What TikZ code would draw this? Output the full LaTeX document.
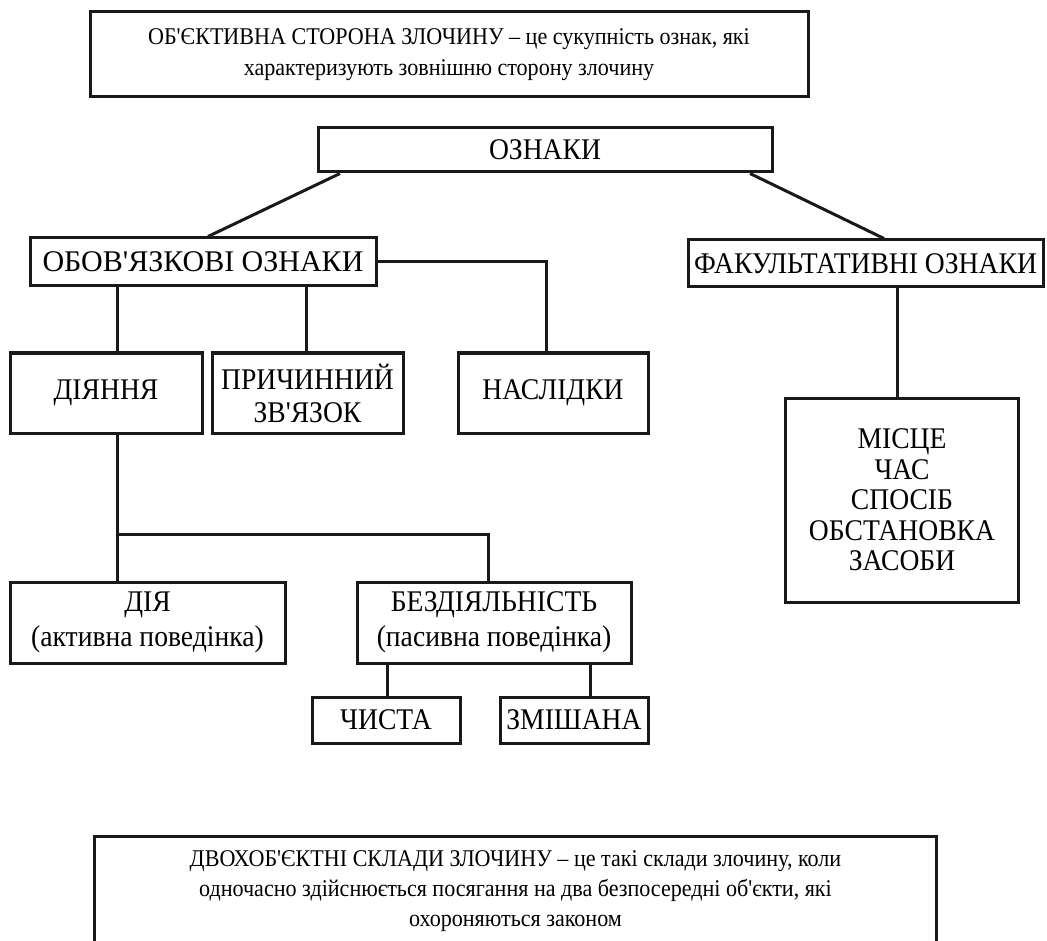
\documentclass[tikz,border=0pt]{standalone}
\usepackage{fontspec}
\setmainfont{Liberation Serif}[FakeStretch=0.92, Ligatures=TeXOff]
\begin{document}
\begin{tikzpicture}[x=1pt,y=-1pt,
  box/.style={draw=black!90, line width=3pt, fill=white, inner sep=0pt, align=center,
    font=\fontsize{30}{33}\selectfont},
  txt/.style={font=\fontsize{24}{31}\selectfont},
  conn/.style={draw=black!90, line width=3pt}]
\useasboundingbox (0,0) rectangle (1047,941);
% boxes
\node[box, txt, minimum width=718, minimum height=85] (top) at (449,54.5)
  {ОБ'ЄКТИВНА СТОРОНА ЗЛОЧИНУ – це сукупність ознак, які\\характеризують зовнішню сторону злочину};
\node[box, minimum width=454, minimum height=44] (ozn) at (545,150) {ОЗНАКИ};
\node[box, minimum width=346, minimum height=48, font=\fontsize{30}{33}\selectfont\addfontfeatures{FakeStretch=1.0}] (obov) at (203,262) {ОБОВ'ЯЗКОВІ ОЗНАКИ};
\node[box, minimum width=355, minimum height=47] (fak) at (865.5,263.5) {ФАКУЛЬТАТИВНІ ОЗНАКИ};
\node[box, minimum width=192, minimum height=80] (diian) at (106,393) {ДІЯННЯ};
\node[box, minimum width=191, minimum height=80] (prych) at (307.5,393) {ПРИЧИННИЙ\\ЗВ'ЯЗОК};
\node[box, minimum width=190, minimum height=80] (nasl) at (553,393) {НАСЛІДКИ};
\node[box, minimum width=233, minimum height=204, font=\fontsize{30}{30.5}\selectfont] (misce) at (902,500)
  {МІСЦЕ\\ЧАС\\СПОСІБ\\ОБСТАНОВКА\\ЗАСОБИ};
\node[box, minimum width=275, minimum height=81, font=\fontsize{30}{35}\selectfont] (diia) at (147.5,622.5) {ДІЯ\\(активна поведінка)};
\node[box, minimum width=274, minimum height=81, font=\fontsize{30}{35}\selectfont] (bezd) at (494,622.5) {БЕЗДІЯЛЬНІСТЬ\\(пасивна поведінка)};
\node[box, minimum width=148, minimum height=46] (chys) at (386,720) {ЧИСТА};
\node[box, minimum width=148, minimum height=46] (zmish) at (574,720) {ЗМІШАНА};
\node[box, minimum width=842, minimum height=130, anchor=north west] (bot) at (93,835) {};
\node[font=\fontsize{24}{30}\selectfont, align=center, anchor=north, inner sep=0pt] (bottxt) at (bot.north) [yshift=-15pt]
  {ДВОХОБ'ЄКТНІ СКЛАДИ ЗЛОЧИНУ – це такі склади злочину, коли\\одночасно здійснюється посягання на два безпосередні об'єкти, які\\охороняються законом};
% helper coordinates
\coordinate (xa) at (340,0);
\coordinate (xb) at (208,0);
\coordinate (xc) at (750,0);
\coordinate (xd) at (884,0);
\coordinate (x1) at (117,0);
\coordinate (x2) at (306,0);
\coordinate (x3) at (546,0);
\coordinate (x4) at (897,0);
\coordinate (x5) at (488,0);
\coordinate (x6) at (387,0);
\coordinate (x7) at (590,0);
\coordinate (yj) at (0,534);
% connectors
\draw[conn] (ozn.south -| xa) -- (obov.north -| xb);
\draw[conn] (ozn.south -| xc) -- (fak.north -| xd);
\draw[conn] (obov.east) -| (nasl.north -| x3);
\draw[conn] (obov.south -| x1) -- (diian.north -| x1);
\draw[conn] (obov.south -| x2) -- (prych.north -| x2);
\draw[conn] (fak.south -| x4) -- (misce.north -| x4);
\draw[conn] (diian.south -| x1) -- (diia.north -| x1);
\draw[conn] (x1 |- yj) -| (bezd.north -| x5);
\draw[conn] (bezd.south -| x6) -- (chys.north -| x6);
\draw[conn] (bezd.south -| x7) -- (zmish.north -| x7);
\end{tikzpicture}
\end{document}
